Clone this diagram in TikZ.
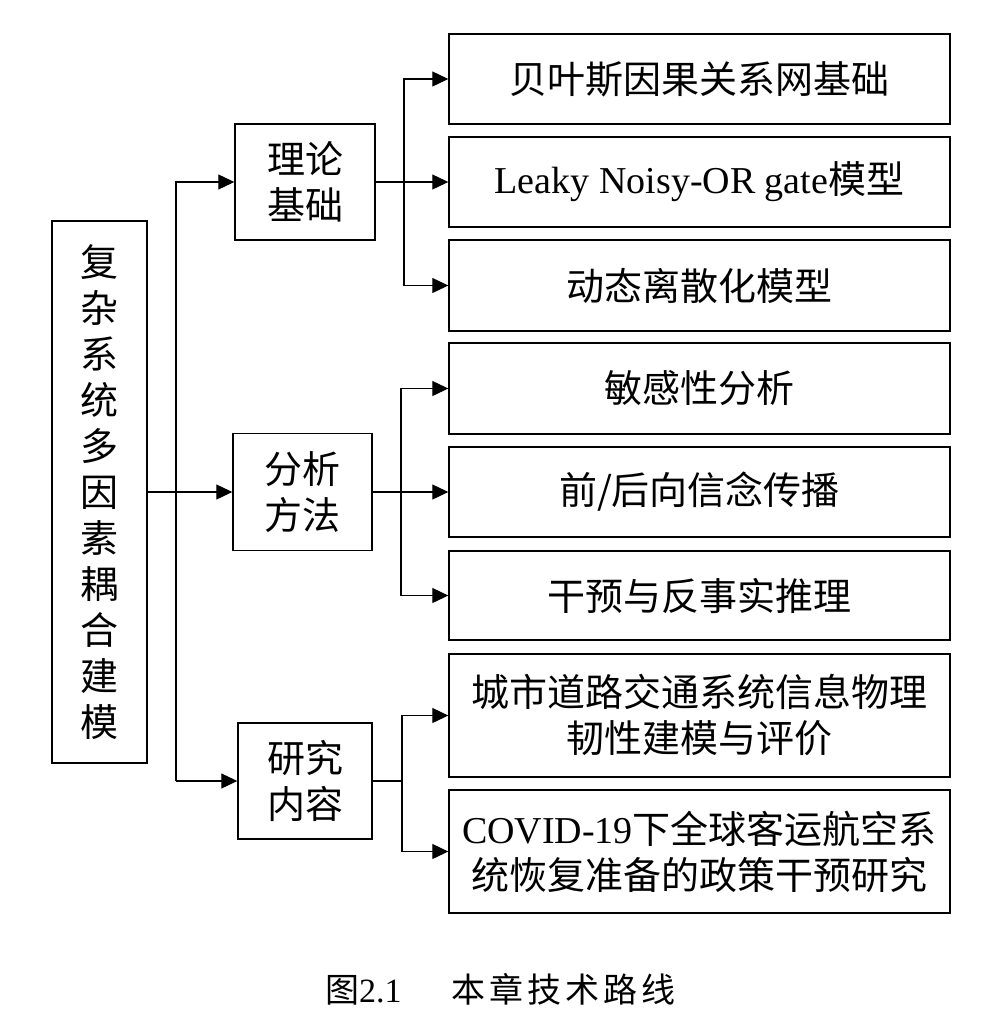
\documentclass[tikz,border=0pt]{standalone}
\usepackage{fontspec}
\setmainfont{Liberation Serif}
\newfontfamily\cjk{Noto Sans CJK SC}
\newcommand\zhtext[1]{{\cjk #1}}
\usetikzlibrary{arrows.meta}
\begin{document}
\begin{tikzpicture}[x=1pt,y=-1pt,
  box/.style={draw=black, line width=1.4pt, inner sep=0pt, align=center,
    font=\fontsize{38}{46}\selectfont},
  zbox/.style={box, font=\fontsize{38}{46}\selectfont\cjk},
  rbox/.style={minimum width=501pt},
  conn/.style={line width=1.1pt},
  arr/.style={conn, -{Triangle[length=16pt,width=15pt]}}]
\useasboundingbox (0,0) rectangle (980,1017);

% left
\node[zbox, minimum width=95pt, minimum height=542pt] (L) at (99.5,492)
  {复\\杂\\系\\统\\多\\因\\素\\耦\\合\\建\\模};

% middle
\node[zbox, minimum width=140pt, minimum height=116pt] (M1) at (305,182) {理论\\基础};
\node[zbox, minimum width=139pt, minimum height=117pt] (M2) at (302.5,492) {分析\\方法};
\node[zbox, minimum width=134pt, minimum height=116pt] (M3) at (305,781) {研究\\内容};

% right
\node[zbox, rbox, minimum height=90pt] (R1) at (699.5,79) {贝叶斯因果关系网基础};
\node[box, rbox, minimum height=90pt] (R2) at (699.5,182) {Leaky Noisy-OR gate\zhtext{模型}};
\node[zbox, rbox, minimum height=91pt] (R3) at (699.5,285.5) {动态离散化模型};
\node[zbox, rbox, minimum height=91pt] (R4) at (699.5,388.5) {敏感性分析};
\node[zbox, rbox, minimum height=90pt] (R5) at (699.5,492) {前/后向信念传播};
\node[zbox, rbox, minimum height=89pt] (R6) at (699.5,595.5) {干预与反事实推理};
\node[zbox, rbox, minimum height=123pt] (R7) at (699.5,715.5) {城市道路交通系统信息物理\\韧性建模与评价};
\node[box, rbox, minimum height=123pt] (R8) at (699.5,851.5) {COVID-19\zhtext{下全球客运航空系}\\\zhtext{统恢复准备的政策干预研究}};

% first level connectors
\coordinate (ja) at (176,0);
\draw[arr] (ja |- M3.west) -- (ja |- M1.west) -- (M1.west);
\draw[arr] (ja |- M3.west) -- (M3.west);
\draw[arr] (L.east) -- (M2.west);

% group 1
\coordinate (jb) at (404,0);
\draw[arr] (jb |- R3.west) -- (jb |- R1.west) -- (R1.west);
\draw[arr] (M1.east) -- (R2.west);
\draw[arr] (jb |- R3.west) -- (R3.west);

% group 2
\coordinate (jc) at (401,0);
\draw[arr] (jc |- R6.west) -- (jc |- R4.west) -- (R4.west);
\draw[arr] (M2.east) -- (R5.west);
\draw[arr] (jc |- R6.west) -- (R6.west);

% group 3
\coordinate (jd) at (402,0);
\draw[conn] (M3.east) -- (jd |- M3.east);
\draw[arr] (jd |- R8.west) -- (jd |- R7.west) -- (R7.west);
\draw[arr] (jd |- R8.west) -- (R8.west);

% caption
\node[anchor=west, inner sep=0pt, font=\fontsize{34}{40}\selectfont] (cap) at (325,989)
  {\zhtext{图}2.1\hspace{50pt}\zhtext{本\kern4pt 章\kern4pt 技\kern4pt 术\kern4pt 路\kern4pt 线}};
\end{tikzpicture}
\end{document}
